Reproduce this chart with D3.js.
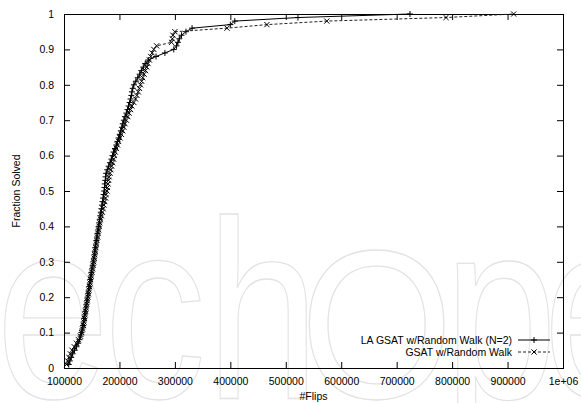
<!DOCTYPE html>
<html>
<head>
<meta charset="utf-8">
<script src="https://cdn.jsdelivr.net/npm/d3@7"></script>
<style>
  html, body { margin: 0; padding: 0; background: #fff; }
  svg { display: block; font-family: Arial, "Liberation Sans", Helvetica, sans-serif; }
</style>
</head>
<body>
<svg id="chart" width="581" height="403"></svg>
<script>
// Flips needed per solved instance, sorted (one entry per solved run out of 100)
const laGsatFlips = [
  108500, 110500, 113000, 115500, 119000, 122500, 125500, 128000, 130000, 131500,
  133000, 134500, 135500, 136500, 137500, 138500, 139500, 140500, 141500, 142500,
  143500, 144500, 145500, 146500, 147500, 148500, 149500, 150500, 152000, 153000,
  154000, 155000, 155500, 156500, 157500, 158500, 159500, 160500, 161500, 162500,
  163500, 164500, 165500, 166500, 167500, 168500, 169500, 170500, 171500, 172500,
  173000, 173500, 174500, 175000, 176000, 178000, 180500, 183000, 185500, 187500,
  189500, 192000, 194500, 196500, 198500, 200500, 202500, 204500, 206000, 208000,
  210000, 212500, 214500, 216500, 218500, 220000, 221500, 222500, 224000, 226000,
  229500, 233000, 236500, 239500, 243000, 246500, 252000, 266000, 282000, 298000,
  303000, 305500, 308000, 312000, 320000, 331000, 400000, 408000, 522000, 724000
];
const gsatFlips = [
  104500, 106500, 109000, 111500, 114500, 118500, 122500, 126000, 129500, 132000,
  133500, 135000, 136000, 137000, 138000, 139000, 140000, 141000, 142000, 143000,
  144000, 145000, 146000, 147000, 148000, 149000, 150500, 151500, 152500, 153500,
  154500, 155500, 156500, 157500, 158500, 159500, 160500, 161500, 162500, 163500,
  164500, 166000, 167500, 169000, 170500, 172000, 173500, 175000, 176000, 177500,
  178500, 179500, 180500, 181500, 183000, 184500, 186000, 188000, 189500, 191000,
  192500, 194500, 196500, 198500, 201000, 203500, 206000, 208000, 210000, 212500,
  215000, 217500, 220000, 222500, 226000, 229000, 231500, 234000, 236000, 238000,
  240000, 242000, 244500, 247000, 249500, 251500, 254000, 256500, 259000, 262000,
  267000, 294000, 295500, 296500, 300000, 394000, 466000, 574000, 789000, 911000
];
const totalRuns = 100;

const seriesNames = ["LA GSAT w/Random Walk (N=2)", "GSAT w/Random Walk"];
const xTickValues = [100000, 200000, 300000, 400000, 500000, 600000, 700000, 800000, 900000, 1000000];
const xTickLabels = ["100000", "200000", "300000", "400000", "500000", "600000", "700000", "800000", "900000", "1e+06"];
const yTickValues = [0, 0.1, 0.2, 0.3, 0.4, 0.5, 0.6, 0.7, 0.8, 0.9, 1];
const yTickLabels = ["0", "0.1", "0.2", "0.3", "0.4", "0.5", "0.6", "0.7", "0.8", "0.9", "1"];

// Outlined background lettering, one glyph per element
const watermarkGlyphs = ["e", "c", "h", "O", "p", "e"];
const watermarkX = [-4, 104, 206, 300, 444, 543];
const watermarkSize = [255, 255, 255, 212, 255, 255];
const watermarkScaleX = [0.8, 0.8, 0.8, 0.93, 0.8, 0.8];

const svg = d3.select("#chart");
const W = 581, H = 403;
const m = { left: 64, right: 18, top: 14, bottom: 35 };
const x0 = m.left, x1 = W - m.right, y0 = H - m.bottom, y1 = m.top;

const wm = svg.append("g").attr("fill", "none").attr("stroke", "#e3e3e3").attr("stroke-width", 1.3);
watermarkGlyphs.forEach((ch, i) => {
  wm.append("text")
    .attr("transform", `translate(${watermarkX[i]},398) scale(${watermarkScaleX[i]},1)`)
    .attr("font-family", "Arial, 'Liberation Sans', sans-serif")
    .attr("font-size", watermarkSize[i])
    .text(ch);
});

const x = d3.scaleLinear().domain([100000, 1000000]).range([x0, x1]);
const y = d3.scaleLinear().domain([0, 1]).range([y0, y1]);

const tickLen = 6;
const g = svg.append("g");

// Ticks on all four sides, pointing inward
const bottomAxis = d3.axisBottom(x).tickValues(xTickValues).tickSizeInner(-tickLen).tickSizeOuter(0)
  .tickFormat((d, i) => xTickLabels[i]).tickPadding(10);
const topAxis = d3.axisTop(x).tickValues(xTickValues).tickSizeInner(-tickLen).tickSizeOuter(0).tickFormat("");
const leftAxis = d3.axisLeft(y).tickValues(yTickValues).tickSizeInner(-tickLen).tickSizeOuter(0)
  .tickFormat((d, i) => yTickLabels[i]).tickPadding(10);
const rightAxis = d3.axisRight(y).tickValues(yTickValues).tickSizeInner(-tickLen).tickSizeOuter(0).tickFormat("");

function styleAxis(sel) {
  sel.select(".domain").remove();
  sel.selectAll(".tick line").attr("stroke", "#000").attr("stroke-width", 1);
  sel.selectAll(".tick text").attr("fill", "#000").attr("font-size", 10.5)
    .attr("font-family", "Arial, 'Liberation Sans', sans-serif");
}
g.append("g").attr("transform", `translate(0,${y0})`).call(bottomAxis).call(styleAxis);
g.append("g").attr("transform", `translate(0,${y1})`).call(topAxis).call(styleAxis);
g.append("g").attr("transform", `translate(${x0},0)`).call(leftAxis).call(styleAxis);
g.append("g").attr("transform", `translate(${x1},0)`).call(rightAxis).call(styleAxis);

// Plot border
svg.append("rect")
  .attr("x", x0 + 0.5).attr("y", y1 + 0.5)
  .attr("width", x1 - x0).attr("height", y0 - y1)
  .attr("fill", "none").attr("stroke", "#000").attr("stroke-width", 1);

// Axis titles
svg.append("text").attr("x", (x0 + x1) / 2).attr("y", 400)
  .attr("text-anchor", "middle").attr("font-size", 10.5).text("#Flips");
svg.append("text")
  .attr("transform", `translate(20,${(y0 + y1) / 2}) rotate(-90)`)
  .attr("text-anchor", "middle").attr("font-size", 10.5).text("Fraction Solved");

// Cumulative fraction solved versus flips
const toPoints = arr => arr.map((f, i) => [f, (i + 1) / totalRuns]);
const seriesData = [toPoints(laGsatFlips), toPoints(gsatFlips)];
const line = d3.line().x(d => x(d[0])).y(d => y(d[1]));

const plusPath = s => `M${-s},0H${s}M0,${-s}V${s}`;
const crossPath = s => `M${-s},${-s}L${s},${s}M${-s},${s}L${s},${-s}`;
const markerPaths = [plusPath(3), crossPath(2.6)];
const dashes = [null, "3,2"];
const strokeCols = ["#000", "#222"];

seriesData.forEach((pts, k) => {
  const sg = svg.append("g");
  sg.append("path").datum(pts).attr("d", line)
    .attr("fill", "none").attr("stroke", strokeCols[k]).attr("stroke-width", 1)
    .attr("stroke-dasharray", dashes[k]);
  sg.selectAll("path.mk").data(pts).join("path").attr("class", "mk")
    .attr("transform", d => `translate(${x(d[0])},${y(d[1])})`)
    .attr("d", markerPaths[k])
    .attr("fill", "none").attr("stroke", "#000").attr("stroke-width", 1);
});

// Legend
const legX = 512, legY = [340, 352];
seriesNames.forEach((name, k) => {
  svg.append("text").attr("x", legX).attr("y", legY[k] + 3.5)
    .attr("text-anchor", "end").attr("font-size", 10.5).text(name);
  svg.append("line").attr("x1", 518).attr("x2", 550).attr("y1", legY[k]).attr("y2", legY[k])
    .attr("stroke", strokeCols[k]).attr("stroke-width", 1).attr("stroke-dasharray", dashes[k]);
  svg.append("path").attr("transform", `translate(534,${legY[k]})`).attr("d", markerPaths[k])
    .attr("fill", "none").attr("stroke", "#000").attr("stroke-width", 1);
});
</script>
</body>
</html>
